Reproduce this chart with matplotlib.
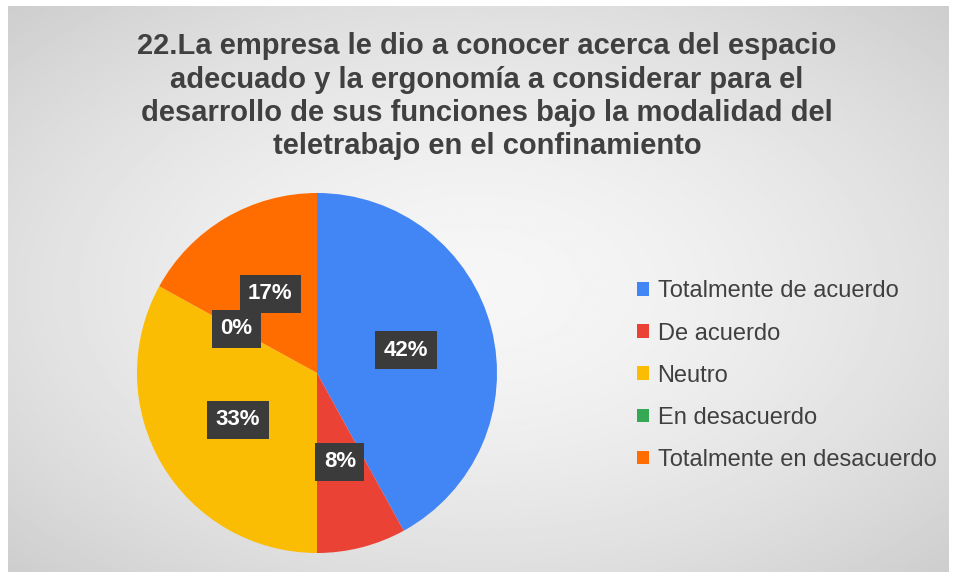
import numpy as np
import matplotlib.pyplot as plt
from matplotlib.patches import Patch

plt.rcParams['font.family'] = ['Liberation Sans', 'DejaVu Sans']

categorias = ["Totalmente de acuerdo", "De acuerdo", "Neutro",
              "En desacuerdo", "Totalmente en desacuerdo"]
porcentajes = [42, 8, 33, 0, 17]
colores = ["#4285F4", "#EA4335", "#FBBC04", "#34A853", "#FF6D01"]
titulo = ("22.La empresa le dio a conocer acerca del espacio\n"
          "adecuado y la ergonomía a considerar para el\n"
          "desarrollo de sus funciones bajo la modalidad del\n"
          "teletrabajo en el confinamiento")

W, H = 957, 578
fig = plt.figure(figsize=(W / 100, H / 100), dpi=100)
fig.patch.set_facecolor("white")

# fondo gris con degradado radial
bg = fig.add_axes([8 / W, 6 / H, (W - 16) / W, (H - 12) / H])
yy, xx = np.mgrid[-1:1:300j, -1:1:500j]
rr = np.sqrt((xx * 0.95) ** 2 + (yy * 0.95) ** 2)
shade = 0.965 - 0.18 * np.clip(rr, 0, 1.45) ** 1.6 / 1.45 ** 1.6
bg.imshow(shade, cmap="gray", vmin=0, vmax=1, aspect="auto",
          extent=[0, 1, 0, 1], interpolation="bilinear")
bg.set_axis_off()

# pastel
cx, cy, r = 317, 373, 180
ax = fig.add_axes([(cx - r) / W, (H - cy - r) / H, 2 * r / W, 2 * r / H])
ax.set_facecolor("none")
wedges, _ = ax.pie(porcentajes, colors=colores, startangle=90,
                   counterclock=False, radius=1)
ax.set_xlim(-1, 1)
ax.set_ylim(-1, 1)
ax.set_aspect("equal")

for w, p in zip(wedges, porcentajes):
    ang = np.deg2rad((w.theta1 + w.theta2) / 2)
    d = 0.51
    ax.text(d * np.cos(ang), d * np.sin(ang), f"{p}%", ha="center", va="center",
            color="white", fontsize=16, fontweight="bold",
            bbox=dict(boxstyle="square,pad=0.38", facecolor="#3b3b3b",
                      edgecolor="none"))

fig.text(487 / W, 1 - 32 / H, titulo, ha="center", va="top", fontsize=21,
         fontweight="bold", color="#404040", linespacing=1.25)

handles = [Patch(facecolor=c, edgecolor="none") for c in colores]
fig.legend(handles, categorias, loc="upper left",
           bbox_to_anchor=(628 / W, 1 - 271 / H), frameon=False,
           fontsize=17, labelcolor="#404040", handlelength=0.5,
           handleheight=0.5, handletextpad=0.35, labelspacing=0.85,
           borderaxespad=0)

fig.savefig("out.png", dpi=100)
